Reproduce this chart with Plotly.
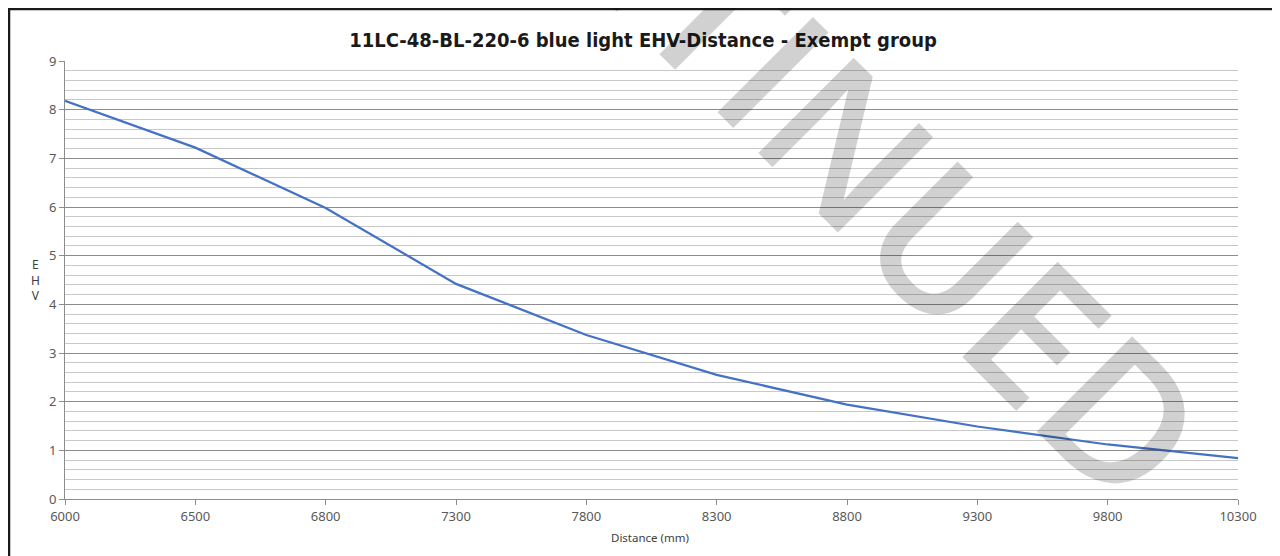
import plotly.graph_objects as go

distance_labels = ["6000", "6500", "6800", "7300", "7800", "8300", "8800", "9300", "9800", "10300"]
ehv_values = [8.18, 7.22, 5.98, 4.42, 3.37, 2.55, 1.94, 1.49, 1.12, 0.84]
y_ticks = [0, 1, 2, 3, 4, 5, 6, 7, 8, 9]

title_text = "11LC-48-BL-220-6 blue light EHV-Distance - Exempt group"
x_title = "Distance (mm)"
y_title = "E<br>H<br>V"
watermark = "DISCONTINUED"

# the page body has an 8px margin, so the figure is drawn 8px in from the window edge
OFF = 8
W, H = 1280 - OFF, 556 - OFF
# plot area in window pixels: x 65..1238, y 61..499
ml, mt = 65 - OFF, 61 - OFF
mr, mb = W - (1238 - OFF), H - (499 - OFF)
pw, ph = W - ml - mr, H - mt - mb

def px(x):  # window pixel x -> paper
    return (x - OFF - ml) / pw

def py(y):  # window pixel y -> paper
    return (H - mb - (y - OFF)) / ph

fig = go.Figure()
fig.add_trace(go.Scatter(
    x=distance_labels, y=ehv_values, mode="lines",
    line=dict(color="#4472C4", width=2.25), hoverinfo="x+y", showlegend=False,
))

tick_font = dict(family="Noto Sans, Liberation Sans, sans-serif", size=13, color="#595959")

fig.update_layout(
    width=W, height=H,
    margin=dict(l=ml, r=mr, t=mt, b=mb),
    paper_bgcolor="white", plot_bgcolor="white",
    title=dict(text="<b>" + title_text + "</b>", xref="container", x=(643 - OFF) / W, xanchor="center",
               yref="container", y=1 - (40 - OFF) / H, yanchor="middle",
               font=dict(family="Liberation Sans Narrow, DejaVu Sans Condensed, sans-serif", size=20, color="#1a1a1a")),
    xaxis=dict(type="category", range=[0, len(distance_labels) - 1],
               showgrid=False, showline=True, linecolor="#8c8c8c", linewidth=1,
               ticks="outside", ticklen=5, tickcolor="#8c8c8c",
               tickfont=tick_font, zeroline=False),
    yaxis=dict(range=[0, 9], tickvals=y_ticks, showline=True, linecolor="#8c8c8c", linewidth=1,
               ticks="outside", ticklen=5, tickcolor="#8c8c8c",
               showgrid=True, gridcolor="#8c8c8c", gridwidth=1,
               minor=dict(dtick=0.2, showgrid=True, gridcolor="#c8c8c8", gridwidth=1, ticks=""),
               tickfont=tick_font, zeroline=False),
    shapes=[dict(type="path", xref="paper", yref="paper",
                 path=f"M {px(9)} {py(600)} L {px(9)} {py(9)} L {px(1277)} {py(9)} L {px(1277)} {py(600)}",
                 line=dict(color="#1a1a1a", width=2.5))],
    annotations=[
        dict(text=x_title, xref="paper", yref="paper", x=px(650), y=py(537),
             showarrow=False, xanchor="center", yanchor="middle",
             font=dict(family="Noto Sans, Liberation Sans, sans-serif", size=11.5, color="#404040")),
        dict(text=y_title, xref="paper", yref="paper", x=px(35), y=py(280),
             showarrow=False, xanchor="center", yanchor="middle",
             font=dict(family="Noto Sans, Liberation Sans, sans-serif", size=12, color="#404040")),
        dict(text=watermark, xref="paper", yref="paper", x=px(675), y=py(-35),
             showarrow=False, xanchor="center", yanchor="middle", textangle=45,
             font=dict(family="Open Sans, sans-serif", size=189, weight=600, color="rgba(0,0,0,0.18)")),
    ],
)

fig.write_html("out.html")
